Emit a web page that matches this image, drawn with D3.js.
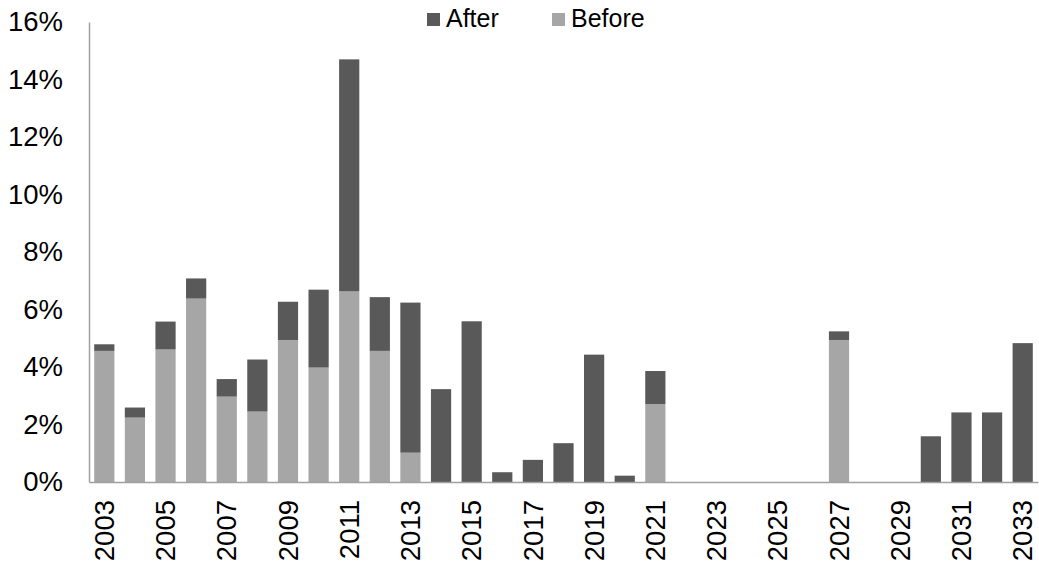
<!DOCTYPE html>
<html>
<head>
<meta charset="utf-8">
<script src="https://cdn.jsdelivr.net/npm/d3@7"></script>
<style>
  body { margin: 0; background: #fff; }
  svg text { font-family: "Liberation Sans", Arial, sans-serif; fill: #000; }
</style>
</head>
<body>
<svg id="chart" width="1039" height="570"></svg>
<script>
const years = ["2003","2004","2005","2006","2007","2008","2009","2010","2011","2012","2013","2014","2015","2016","2017","2018","2019","2020","2021","2022","2023","2024","2025","2026","2027","2028","2029","2030","2031","2032","2033"];
// percent values
const before = [4.56, 2.24, 4.61, 6.38, 2.97, 2.45, 4.94, 3.98, 6.63, 4.56, 1.02, 0, 0, 0, 0, 0, 0, 0, 2.71, 0, 0, 0, 0, 0, 4.94, 0, 0, 0, 0, 0, 0];
const after  = [0.23, 0.35, 0.97, 0.70, 0.61, 1.81, 1.33, 2.71, 8.07, 1.87, 5.22, 3.23, 5.59, 0.34, 0.77, 1.35, 4.43, 0.22, 1.15, 0, 0, 0, 0, 0, 0.30, 0, 0, 1.59, 2.42, 2.42, 4.83];
const yTicks = [0, 2, 4, 6, 8, 10, 12, 14, 16];
const xLabels = years.filter((d, i) => i % 2 === 0);
const seriesNames = ["After", "Before"];
const colors = { After: "#595959", Before: "#a6a6a6" };

const svg = d3.select("#chart");
const mLeft = 89, mRight = 1038, mTop = 22, mBottom = 482;

const x = d3.scaleBand().domain(years).range([mLeft, mRight]).paddingInner(0.34).paddingOuter(0.17);
const y = d3.scaleLinear().domain([0, 16]).range([mBottom, mTop]);

const data = years.map((yr, i) => ({ year: yr, Before: before[i], After: after[i] }));
const stack = d3.stack().keys(["Before", "After"])(data);

svg.append("g").selectAll("g").data(stack).join("g")
  .attr("fill", d => colors[d.key])
  .selectAll("rect").data(d => d).join("rect")
  .attr("x", d => x(d.data.year))
  .attr("width", x.bandwidth())
  .attr("y", d => y(d[1]))
  .attr("height", d => Math.max(0, y(d[0]) - y(d[1])));

// Y axis
const yAxis = svg.append("g").attr("transform", `translate(${mLeft},0)`)
  .call(d3.axisLeft(y).tickValues(yTicks).tickFormat(d => d + "%").tickSize(0).tickPadding(26));
yAxis.select(".domain").attr("stroke", "#a0a0a0").attr("stroke-width", 1.5);
yAxis.selectAll("text").attr("font-size", "27.5px").attr("font-family", "Liberation Sans, Arial, sans-serif");

// X axis
const xAxis = svg.append("g").attr("transform", `translate(0,${mBottom})`)
  .call(d3.axisBottom(x).tickValues(xLabels).tickSize(0));
xAxis.select(".domain").attr("stroke", "#a0a0a0").attr("stroke-width", 1.5);
xAxis.selectAll("text")
  .attr("font-size", "27.5px")
  .attr("font-family", "Liberation Sans, Arial, sans-serif")
  .attr("transform", "rotate(-90)")
  .attr("text-anchor", "end")
  .attr("x", -18)
  .attr("y", 0)
  .attr("dy", "0.35em");

// Legend
const legendPos = { After: 427, Before: 552 };
const lg = svg.append("g");
seriesNames.forEach(name => {
  lg.append("rect").attr("x", legendPos[name]).attr("y", 13).attr("width", 13).attr("height", 13).attr("fill", colors[name]);
  lg.append("text").attr("x", legendPos[name] + 19).attr("y", 27).attr("font-size", "25px").text(name);
});
</script>
</body>
</html>
